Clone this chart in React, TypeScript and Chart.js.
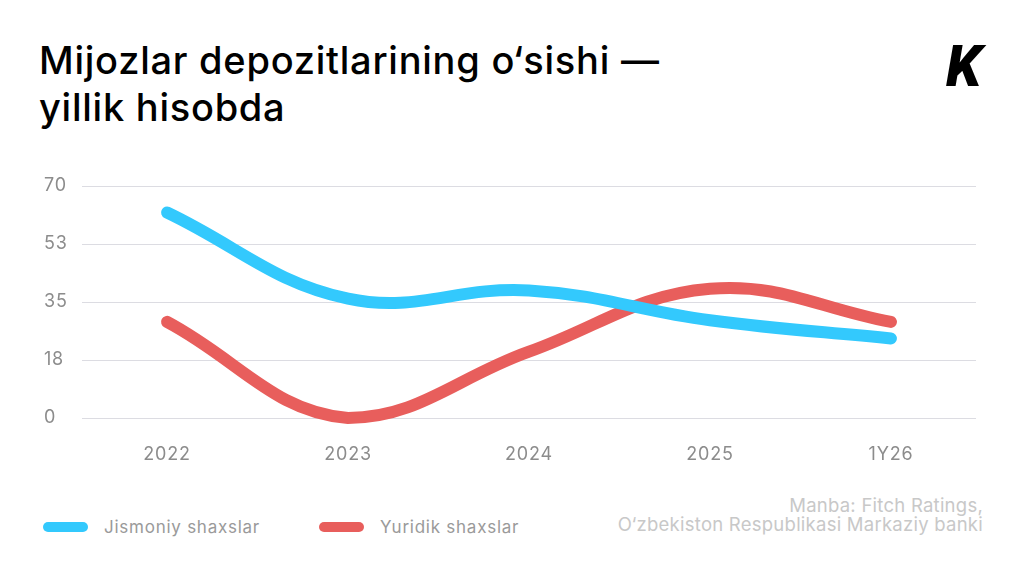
import React, { useEffect, useRef } from "react";
import { Chart, registerables } from "chart.js";

Chart.register(...registerables);

const categories = ["2022", "2023", "2024", "2025", "1Y26"];
const jismoniyValues = [62, 36, 38.5, 29.5, 24];
const yuridikValues = [29, 0, 20, 39, 29];
const yTickValues = [0, 17.5, 35, 52.5, 70];
const yTickLabels = ["0", "18", "35", "53", "70"];
const seriesNames = ["Jismoniy shaxslar", "Yuridik shaxslar"];
const seriesColors = ["#33c9fd", "#e85e5c"];
const titleLines = ["Mijozlar depozitlarining o‘sishi —", "yillik hisobda"];
const sourceLines = ["Manba: Fitch Ratings,", "O‘zbekiston Respublikasi Markaziy banki"];

const FONT = "Inter, 'Noto Sans', sans-serif";

const spacingPlugin = {
  id: "letterSpacing",
  beforeDraw: (chart: any) => {
    try {
      chart.ctx.letterSpacing = "0.8px";
    } catch (e) {}
  },
};

export default function App() {
  const canvasRef = useRef<HTMLCanvasElement | null>(null);

  useEffect(() => {
    document.body.style.margin = "0";
    const canvas = canvasRef.current;
    if (!canvas) return;
    const chart = new Chart(canvas, {
      type: "line",
      data: {
        datasets: [jismoniyValues, yuridikValues].map((vals, si) => ({
          label: seriesNames[si],
          data: vals.map((v, i) => ({ x: i, y: v })),
          borderColor: seriesColors[si],
          backgroundColor: seriesColors[si],
          borderWidth: 12,
          borderCapStyle: "round" as const,
          borderJoinStyle: "round" as const,
          tension: 0.4,
          pointRadius: 0,
          pointHoverRadius: 0,
          fill: false,
          clip: false as any,
        })),
      },
      plugins: [spacingPlugin],
      options: {
        animation: false,
        responsive: false,
        maintainAspectRatio: false,
        layout: { padding: { left: 44, right: 48, top: 26, bottom: 14 } },
        plugins: {
          legend: { display: false },
          tooltip: { enabled: false },
        },
        scales: {
          x: {
            type: "linear",
            min: -0.47,
            max: 4.47,
            grid: { display: false, drawTicks: false },
            border: { display: false },
            afterBuildTicks: (s: any) => {
              s.ticks = categories.map((_, i) => ({ value: i }));
            },
            afterFit: (s: any) => {
              s.height = 48;
            },
            ticks: {
              padding: 26,
              color: "#8c8c8c",
              font: { family: FONT, size: 18 },
              callback: (v: any) => categories[Number(v)] ?? "",
              maxRotation: 0,
              autoSkip: false,
            },
          },
          y: {
            min: 0,
            max: 70,
            afterBuildTicks: (s: any) => {
              s.ticks = yTickValues.map((v) => ({ value: v }));
            },
            afterFit: (s: any) => {
              s.width = 38;
            },
            grid: { color: "#dcdce2", lineWidth: 1, drawTicks: false },
            border: { display: false },
            ticks: {
              crossAlign: "far",
              padding: 0,
              color: "#8c8c8c",
              font: { family: FONT, size: 18 },
              callback: (v: any) => yTickLabels[yTickValues.indexOf(Number(v))] ?? "",
            },
          },
        },
      },
    });
    return () => chart.destroy();
  }, []);

  return (
    <div
      style={{
        position: "fixed",
        left: 0,
        top: 0,
        width: 1024,
        height: 569,
        background: "#ffffff",
        overflow: "hidden",
        fontFamily: FONT,
      }}
    >
      <div
        style={{
          position: "absolute",
          left: 39,
          top: 36.5,
          fontSize: 38,
          fontWeight: 500,
          letterSpacing: "0.75px",
          lineHeight: "47.5px",
          color: "#000",
          whiteSpace: "nowrap",
        }}
      >
        {titleLines.map((t, i) => (
          <div key={i}>{t}</div>
        ))}
      </div>
      <div
        style={{
          position: "absolute",
          left: 946,
          top: 37,
          fontSize: 57,
          fontWeight: 900,
          fontStyle: "italic",
          fontFamily: "Roboto, sans-serif",
          color: "#000",
          lineHeight: "60px",
        }}
      >
        K
      </div>
      <div style={{ position: "absolute", left: 0, top: 160, width: 1024, height: 320 }}>
        <canvas ref={canvasRef} width={1024} height={320} style={{ width: 1024, height: 320, display: "block" }} />
      </div>
      <div
        style={{
          position: "absolute",
          left: 43,
          top: 514,
          display: "flex",
          alignItems: "center",
          fontSize: 17,
          letterSpacing: "0.75px",
          color: "#9a9a9a",
          height: 26,
        }}
      >
        {seriesNames.map((n, i) => (
          <div key={i} style={{ display: "flex", alignItems: "center", marginRight: 0, width: i === 0 ? 276 : undefined }}>
            <span
              style={{
                display: "inline-block",
                width: 45,
                height: 10,
                borderRadius: 5,
                background: seriesColors[i],
                marginRight: 16,
              }}
            />
            <span>{n}</span>
          </div>
        ))}
      </div>
      <div
        style={{
          position: "absolute",
          right: 41,
          top: 495.5,
          textAlign: "right",
          fontSize: 18.5,
          letterSpacing: "0.25px",
          lineHeight: "19px",
          color: "#c8c8c8",
          whiteSpace: "nowrap",
        }}
      >
        {sourceLines.map((t, i) => (
          <div key={i}>{t}</div>
        ))}
      </div>
    </div>
  );
}
